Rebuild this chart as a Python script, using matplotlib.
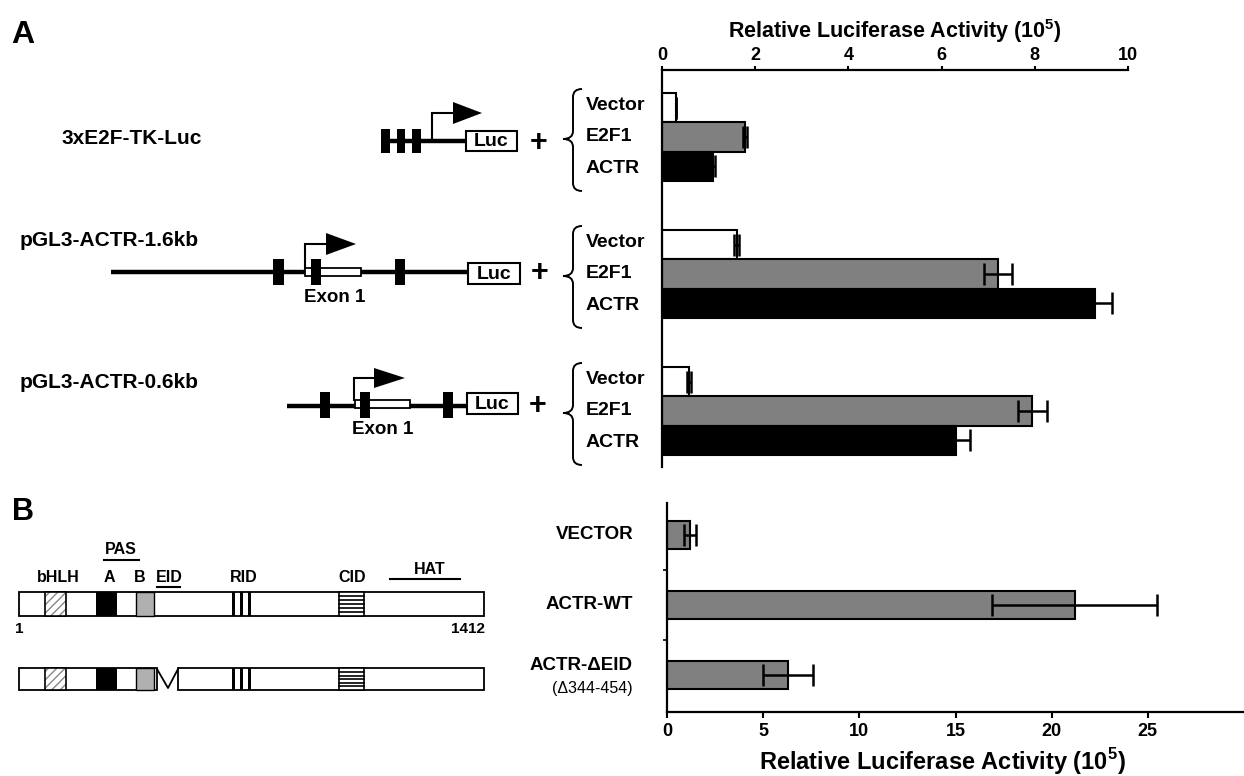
import matplotlib
matplotlib.use("Agg")
import matplotlib.pyplot as plt
from matplotlib.patches import Rectangle, Polygon, PathPatch
from matplotlib.path import Path
import numpy as np

# ---------------- data ----------------
constructs = ["3xE2F-TK-Luc", "pGL3-ACTR-1.6kb", "pGL3-ACTR-0.6kb"]
treatments = ["Vector", "E2F1", "ACTR"]
vector_vals = [0.30, 1.60, 0.58]
vector_err = [0.00, 0.05, 0.05]
e2f1_vals = [1.78, 7.20, 7.95]
e2f1_err = [0.05, 0.30, 0.32]
actr_vals = [1.10, 9.30, 6.30]
actr_err = [0.03, 0.35, 0.30]
a_ticks = [0, 2, 4, 6, 8, 10]

b_order = ["VECTOR", "ACTR-WT", "ACTR-\u0394EID"]
b_vals = [1.2, 21.2, 6.3]
b_err = [0.3, 4.3, 1.3]
b_ticks = [0, 5, 10, 15, 20, 25]

# ---------------- style ----------------
plt.rcParams['font.family'] = ['Liberation Sans', 'DejaVu Sans']
plt.rcParams['mathtext.fontset'] = 'custom'
plt.rcParams['mathtext.rm'] = 'Liberation Sans'
plt.rcParams['mathtext.bf'] = 'Liberation Sans:bold'
NARROW = ['Liberation Sans Narrow', 'Liberation Sans', 'DejaVu Sans']

W, H = 1244, 776
fig = plt.figure(figsize=(W / 100, H / 100), dpi=100)
fig.patch.set_facecolor('white')

def rect(x0, y0, x1, y1):
    return [x0 / W, 1 - y1 / H, (x1 - x0) / W, (y1 - y0) / H]

# overlay for schematics (pixel coordinates)
dax = fig.add_axes([0, 0, 1, 1], zorder=0)
dax.set_xlim(0, W)
dax.set_ylim(H, 0)
dax.axis('off')

# ---------------- Panel A bar chart ----------------
A_TOP, A_BOT, A_L, A_R = 70, 467, 662, 1128
a_ymin, a_k = -0.489, 137.0
a_ymax = a_ymin + (A_BOT - A_TOP) / a_k
ax = fig.add_axes(rect(A_L, A_TOP, A_R, A_BOT), zorder=2)
ax.set_xlim(0, 10)
ax.set_ylim(a_ymax, a_ymin)
ax.patch.set_alpha(0)
for s in ['right', 'bottom']:
    ax.spines[s].set_visible(False)
for s in ['top', 'left']:
    ax.spines[s].set_linewidth(1.6)
ax.xaxis.tick_top()
ax.xaxis.set_label_position('top')
ax.set_xticks(a_ticks)
ax.set_xticklabels([str(t) for t in a_ticks], fontsize=13, fontweight='bold')
ax.tick_params(axis='x', direction='out', length=3, width=1.5, pad=1)
ax.set_yticks([])
ax.set_xlabel(r"Relative Luciferase Activity (10$^{\mathbf{5}}$)", fontsize=15.5,
              fontweight='bold', labelpad=7)

h = 0.215
g = np.arange(len(constructs))
series = [(vector_vals, vector_err, 'white', -h),
          (e2f1_vals, e2f1_err, '#808080', 0.0),
          (actr_vals, actr_err, 'black', h)]
for vals, errs, col, off in series:
    ax.barh(g + off, vals, height=h, color=col, edgecolor='black', linewidth=1.5, zorder=2)
    ax.errorbar(vals, g + off, xerr=errs, fmt='none', ecolor='black',
                elinewidth=1.8, capsize=8, capthick=1.8, zorder=3)

def row_px(gi):
    return A_TOP + (gi - a_ymin) * a_k

# braces + labels
def brace(xe, xs, xt, yt, ym, yb, r=8):
    verts = [(xe, yt), (xs, yt), (xs, yt + r), (xs, ym - r), (xs, ym), (xt, ym),
             (xs, ym), (xs, ym + r), (xs, yb - r), (xs, yb), (xe, yb)]
    codes = [Path.MOVETO, Path.CURVE3, Path.CURVE3, Path.LINETO, Path.CURVE3, Path.CURVE3,
             Path.CURVE3, Path.CURVE3, Path.LINETO, Path.CURVE3, Path.CURVE3]
    dax.add_patch(PathPatch(Path(verts, codes), fill=False, lw=1.4, edgecolor='black'))

for gi in range(3):
    yc = row_px(gi)
    brace(582, 573, 563, yc - 48, yc + 2, yc + 54)
    for j, t in enumerate(treatments):
        dax.text(586, yc + (j - 1) * 31.5, t, fontsize=14, fontweight='bold',
                 ha='left', va='center')

# panel letters
dax.text(11, 35, "A", fontsize=23, fontweight='bold', ha='left', va='center')
dax.text(12, 512, "B", fontsize=22, fontweight='bold', ha='left', va='center')

# construct names
name_pos = [(62, 139), (20, 240), (20, 383)]
for (x, y), nm in zip(name_pos, constructs):
    dax.text(x, y, nm, fontsize=15, fontweight='bold', ha='left', va='center')

def black_block(x0, x1, y0, y1):
    dax.add_patch(Rectangle((x0, y0), x1 - x0, y1 - y0, facecolor='black', edgecolor='none', zorder=3))

def luc(x0, x1, y0, y1):
    dax.add_patch(Rectangle((x0, y0), x1 - x0, y1 - y0, facecolor='white', edgecolor='black', lw=1.5, zorder=3))
    dax.text((x0 + x1) / 2, (y0 + y1) / 2 + 1, "Luc", fontsize=14, fontweight='bold',
             ha='center', va='center', zorder=4)

def promoter(x, ybase, ytop, xh, xtip, th):
    dax.plot([x, x, xh], [ybase, ytop, ytop], color='black', lw=1.5, zorder=4,
             solid_joinstyle='miter')
    dax.add_patch(Polygon([(xh - 2, ytop - th), (xh - 2, ytop + th), (xtip, ytop)],
                          closed=True, facecolor='black', edgecolor='none', zorder=4))

def plus(x, y):
    dax.text(x, y, "+", fontsize=22, fontweight='bold', ha='center', va='center')

# Row 1
y1 = 141
dax.plot([381, 466], [y1, y1], color='black', lw=3.2, zorder=2, solid_capstyle='butt')
for x0, x1 in [(381, 390), (397, 405), (412, 421)]:
    black_block(x0, x1, 129, 153)
promoter(432, y1, 113, 455, 482, 11)
luc(466, 517, 131, 151)
plus(539, 143)

# Row 2
y2 = 272
dax.plot([111, 468], [y2, y2], color='black', lw=3.2, zorder=2, solid_capstyle='butt')
dax.add_patch(Rectangle((305, 268), 56, 8, facecolor='white', edgecolor='black', lw=1.3, zorder=3))
for x0, x1 in [(273, 284), (311, 321), (395, 405)]:
    black_block(x0, x1, 259, 285)
promoter(305, 268, 244, 328, 356, 11)
luc(468, 520, 263, 284)
dax.text(335, 298, "Exon 1", fontsize=13.5, fontweight='bold', ha='center', va='center')
plus(540, 273)

# Row 3
y3 = 406
dax.plot([287, 467], [y3, y3], color='black', lw=3.2, zorder=2, solid_capstyle='butt')
dax.add_patch(Rectangle((355, 400), 55, 8, facecolor='white', edgecolor='black', lw=1.3, zorder=3))
for x0, x1 in [(320, 330), (360, 370), (443, 453)]:
    black_block(x0, x1, 392, 418)
promoter(354, 400, 378, 376, 405, 10)
luc(467, 518, 393, 414)
dax.text(383, 430, "Exon 1", fontsize=13.5, fontweight='bold', ha='center', va='center')
plus(538, 406)

# ---------------- Panel B schematic ----------------
def domains(y0, y1, segments):
    for sx0, sx1 in segments:
        dax.add_patch(Rectangle((sx0, y0), sx1 - sx0, y1 - y0, facecolor='white',
                                edgecolor='black', lw=1.3, zorder=2))
    dax.add_patch(Rectangle((45, y0), 21, y1 - y0, facecolor='white', edgecolor='#888888',
                            hatch='////', lw=0, zorder=3))
    dax.add_patch(Rectangle((45, y0), 21, y1 - y0, facecolor='none', edgecolor='black',
                            lw=1.2, zorder=4))
    black_block(96, 117, y0, y1)
    dax.add_patch(Rectangle((136, y0), 18, y1 - y0, facecolor='#b0b0b0', edgecolor='black',
                            lw=1.0, zorder=3))
    for xs in (232, 240, 248):
        dax.add_patch(Rectangle((xs, y0), 3, y1 - y0, facecolor='black', edgecolor='none', zorder=3))
    dax.add_patch(Rectangle((339, y0), 25, y1 - y0, facecolor='white', edgecolor='black',
                            lw=1.2, zorder=3))
    for yy in np.linspace(y0 + 4, y1 - 4, 5):
        dax.plot([339, 364], [yy, yy], color='black', lw=1.2, zorder=4)

domains(592, 616, [(19, 484)])
domains(668, 690, [(19, 157), (178, 484)])
dax.plot([157, 168, 178], [669, 688, 669], color='black', lw=1.3, zorder=4)

lab_kw = dict(fontsize=11.5, family=NARROW, fontweight='bold', ha='center', va='center')
for txt, x in [("bHLH", 58), ("A", 109), ("B", 140), ("EID", 169), ("RID", 244), ("CID", 352)]:
    dax.text(x, 577, txt, **lab_kw)
dax.text(121, 549, "PAS", **lab_kw)
dax.plot([104, 139], [560, 560], color='black', lw=1.5)
dax.plot([157, 180], [587, 587], color='black', lw=1.5)
dax.text(430, 569, "HAT", **lab_kw)
dax.plot([390, 460], [579, 579], color='black', lw=1.5)
dax.text(19, 629, "1", fontsize=11, fontweight='bold', ha='center', va='center')
dax.text(485, 629, "1412", fontsize=11, fontweight='bold', ha='right', va='center')

# ---------------- Panel B bar chart ----------------
B_TOP, B_BOT, B_L, B_R = 503, 712, 667, 1244
b_ymin, b_k = -0.457, 70.0
b_ymax = b_ymin + (B_BOT - B_TOP) / b_k
bx = fig.add_axes(rect(B_L, B_TOP, B_R, B_BOT), zorder=2)
bx.set_xlim(0, 30)
bx.set_ylim(b_ymax, b_ymin)
bx.patch.set_alpha(0)
for s in ['right', 'top']:
    bx.spines[s].set_visible(False)
for s in ['bottom', 'left']:
    bx.spines[s].set_linewidth(1.6)
bg = np.arange(len(b_order))
bx.barh(bg, b_vals, height=0.39, color='#808080', edgecolor='black', linewidth=1.5, zorder=2)
bx.errorbar(b_vals, bg, xerr=b_err, fmt='none', ecolor='black', elinewidth=1.8,
            capsize=8, capthick=1.8, zorder=3)
bx.set_xticks(b_ticks)
bx.set_xticklabels([str(t) for t in b_ticks], fontsize=13, fontweight='bold', family=NARROW)
bx.tick_params(axis='x', direction='out', length=4, width=1.5, pad=4)
bx.set_yticks([0.5, 1.5])
bx.set_yticklabels([])
bx.tick_params(axis='y', direction='out', length=3, width=1.2)
dax.text(942, 762, r"Relative Luciferase Activity (10$^{\mathbf{5}}$)", fontsize=17,
         fontweight='bold', family=NARROW, ha='center', va='center')

for gi, lab in enumerate(b_order):
    yp = B_TOP + (gi - b_ymin) * b_k
    if gi == 2:
        dax.text(633, yp - 9, lab, fontsize=13.5, fontweight='bold', ha='right', va='center')
        dax.text(633, yp + 14, "(\u0394344-454)", fontsize=11.5, family=NARROW,
                 ha='right', va='center')
    else:
        dax.text(633, yp, lab, fontsize=13.5, fontweight='bold', ha='right', va='center')

fig.savefig("out.png", dpi=100, facecolor='white')
